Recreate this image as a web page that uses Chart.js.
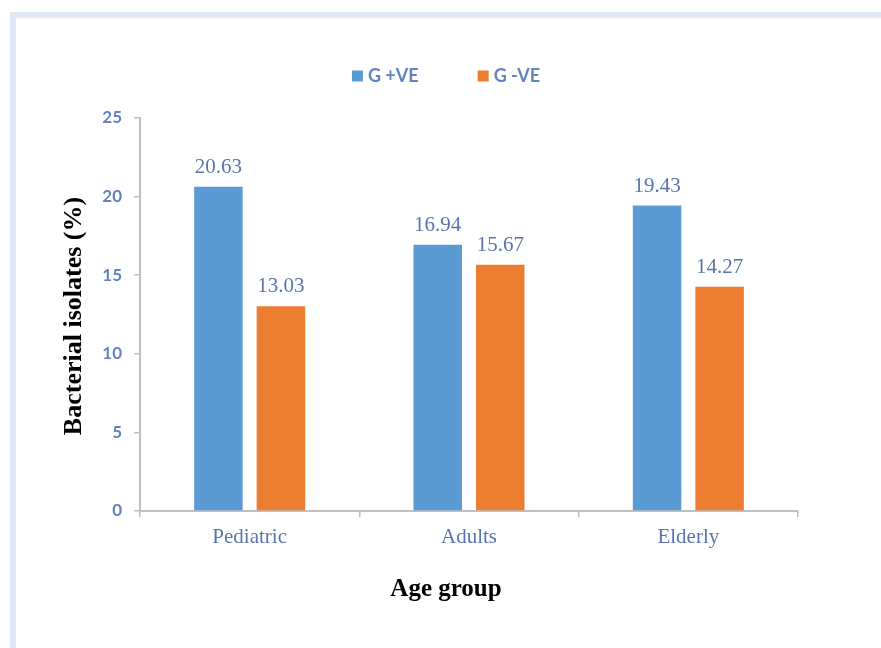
<!DOCTYPE html>
<html>
<head>
<meta charset="utf-8">
<script src="https://cdn.jsdelivr.net/npm/chart.js@4/dist/chart.umd.min.js"></script>
<style>
  html, body { margin: 0; padding: 0; background: #ffffff; width: 881px; height: 648px; overflow: hidden; }
  #frame { position: absolute; left: 10px; top: 12px; width: 900px; height: 700px;
           border-top: 6px solid #dfe9f6; border-left: 6px solid #dfe9f6; }
  #chart { position: absolute; left: 0; top: 0; }
</style>
</head>
<body>
<div id="frame"></div>
<canvas id="chart" width="881" height="648"></canvas>
<script>
// Age groups and share of bacterial isolates (%) by Gram stain
const ageGroups = ['Pediatric', 'Adults', 'Elderly'];
const gramPositive = [20.63, 16.94, 19.43];
const gramNegative = [13.03, 15.67, 14.27];
const seriesNames = ['G +VE', 'G -VE'];
const yTicks = [0, 5, 10, 15, 20, 25];

const BLUE = '#5b9bd5';
const ORANGE = '#ed7d31';
const TICK_TEXT = '#6283c0';
const LABEL_TEXT = '#5a74ad';
const AXIS = '#bfbfbf';

// Value labels above each bar, axis titles and the legend row
const annotate = {
  id: 'annotate',
  afterDatasetsDraw(chart) {
    const ctx = chart.ctx;
    ctx.save();
    ctx.font = '21px "Liberation Serif", "Times New Roman", serif';
    ctx.fillStyle = LABEL_TEXT;
    ctx.textAlign = 'center';
    ctx.textBaseline = 'alphabetic';
    chart.data.datasets.forEach((ds, i) => {
      const meta = chart.getDatasetMeta(i);
      meta.data.forEach((bar, j) => {
        ctx.fillText(ds.data[j].toFixed(2), bar.x, bar.y - 14);
      });
    });
    ctx.restore();
  },
  afterDraw(chart) {
    const ctx = chart.ctx;
    const cx = 446;
    ctx.save();
    // axis titles
    ctx.fillStyle = '#000000';
    ctx.textAlign = 'center';
    ctx.textBaseline = 'middle';
    ctx.font = 'bold 25px "Liberation Serif", "Times New Roman", serif';
    ctx.fillText('Age group', cx, 590);
    ctx.font = 'bold 26px "Liberation Serif", "Times New Roman", serif';
    ctx.translate(74, 316);
    ctx.rotate(-Math.PI / 2);
    ctx.fillText('Bacterial isolates (%)', 0, 0);
    ctx.restore();

    // legend
    ctx.save();
    ctx.font = 'bold 18px Lato, "Liberation Sans", sans-serif';
    ctx.textBaseline = 'middle';
    ctx.textAlign = 'left';
    const box = 11, gap = 5, spacing = 59;
    const items = chart.data.datasets.map(ds => ({
      label: ds.label, color: ds.backgroundColor, w: ctx.measureText(ds.label).width
    }));
    const total = items.reduce((s, it) => s + box + gap + it.w, 0) + spacing * (items.length - 1);
    let x = cx - total / 2;
    const y = 76;
    items.forEach(it => {
      ctx.fillStyle = it.color;
      ctx.fillRect(x, y - box / 2, box, box);
      ctx.fillStyle = TICK_TEXT;
      ctx.fillText(it.label, x + box + gap, y);
      x += box + gap + it.w + spacing;
    });
    ctx.restore();
  }
};

new Chart(document.getElementById('chart'), {
  type: 'bar',
  data: {
    labels: ageGroups,
    datasets: [
      { label: seriesNames[0], data: gramPositive, backgroundColor: BLUE },
      { label: seriesNames[1], data: gramNegative, backgroundColor: ORANGE }
    ]
  },
  options: {
    responsive: false,
    animation: false,
    devicePixelRatio: 1,
    categoryPercentage: 0.57,
    barPercentage: 0.776,
    layout: { padding: { top: 118, right: 83, bottom: 0, left: 0 } },
    plugins: { legend: { display: false }, tooltip: { enabled: false } },
    scales: {
      x: {
        afterFit(scale) { scale.height = 137; },
        grid: { drawOnChartArea: false, drawTicks: true, tickLength: 6, tickColor: AXIS, lineWidth: 1.5, offset: true },
        border: { display: true, color: AXIS, width: 2 },
        ticks: {
          color: LABEL_TEXT, padding: 8,
          font: { family: '"Liberation Serif", "Times New Roman", serif', size: 21 }
        }
      },
      y: {
        min: 0, max: 25,
        afterFit(scale) { scale.width = 140; },
        afterBuildTicks(scale) { scale.ticks = yTicks.map(v => ({ value: v })); },
        grid: { drawOnChartArea: false, drawTicks: true, tickLength: 6, tickColor: AXIS, lineWidth: 1.5 },
        border: { display: true, color: AXIS, width: 2 },
        ticks: {
          color: TICK_TEXT, padding: 12,
          font: { family: 'Lato, "Liberation Sans", sans-serif', size: 17, weight: 'bold' }
        }
      }
    }
  },
  plugins: [annotate]
});
</script>
</body>
</html>
